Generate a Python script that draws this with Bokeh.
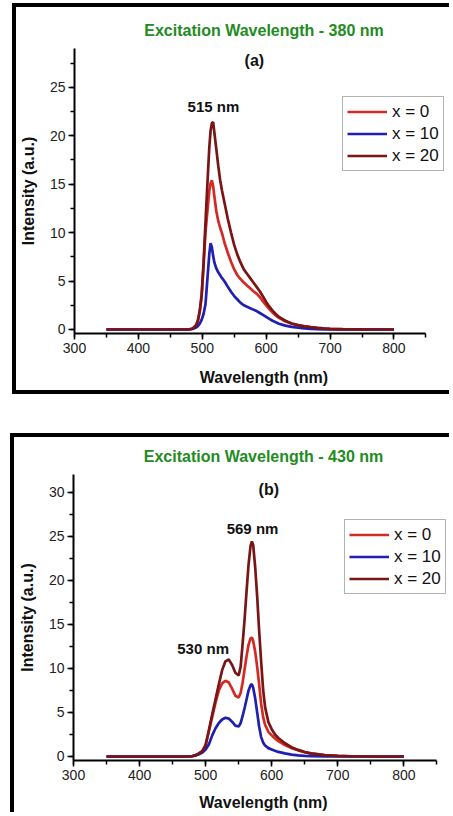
from bokeh.plotting import figure
from bokeh.models import Label, Range1d, SingleIntervalTicker, Spacer
from bokeh.layouts import column, row
from bokeh.embed import file_html
from bokeh.resources import INLINE

# ---------------- data: panel (a), excitation 380 nm ----------------
wl_a = [350, 470, 480, 485, 490, 493, 496, 499, 502, 505, 508, 511, 513, 515, 517,
        519, 522, 525, 528, 531, 535, 540, 545, 550, 555, 560, 565, 570, 575, 580,
        585, 590, 595, 600, 605, 610, 615, 620, 630, 640, 650, 660, 670, 680, 690,
        700, 720, 750, 800]
a_x0 = [0, 0, 0.02, 0.1, 0.4, 0.85, 1.8, 3.4, 6.5, 10.0, 12.2, 14.3, 15.1, 15.4, 14.8,
        13.7, 12.2, 11.2, 10.5, 9.9, 8.9, 7.9, 7.0, 6.2, 5.6, 5.2, 4.85, 4.55, 4.25, 3.95,
        3.7, 3.35, 2.9, 2.5, 2.1, 1.75, 1.45, 1.2, 0.85, 0.6, 0.43, 0.32, 0.23, 0.16, 0.1,
        0.06, 0.02, 0.01, 0]
a_x10 = [0, 0, 0.01, 0.05, 0.2, 0.35, 0.6, 1.0, 1.6, 2.6, 5.2, 7.8, 8.9, 8.5, 7.6,
         6.9, 6.3, 5.9, 5.6, 5.3, 4.95, 4.4, 3.9, 3.45, 3.1, 2.75, 2.5, 2.35, 2.2, 2.05,
         1.9, 1.7, 1.5, 1.3, 1.1, 0.9, 0.75, 0.6, 0.4, 0.27, 0.18, 0.11, 0.06, 0.03, 0.01,
         0, 0, 0, 0]
a_x20 = [0, 0, 0.02, 0.1, 0.4, 0.9, 1.9, 3.6, 6.9, 11.0, 15.0, 18.8, 20.5, 21.3, 21.4,
         20.3, 18.6, 16.9, 15.4, 14.3, 13.0, 11.4, 10.0, 8.7, 7.7, 6.9, 6.2, 5.75, 5.3, 4.85,
         4.4, 3.95, 3.4, 2.85, 2.35, 1.95, 1.6, 1.3, 0.9, 0.62, 0.45, 0.33, 0.24, 0.17, 0.11,
         0.07, 0.03, 0.01, 0]

# ---------------- data: panel (b), excitation 430 nm ----------------
wl_b = [350, 470, 480, 485, 490, 495, 500, 505, 510, 515, 520, 525, 530, 535, 540,
        545, 550, 553, 556, 559, 562, 565, 568, 570, 572, 575, 578, 581, 584, 587,
        590, 595, 600, 605, 610, 620, 630, 640, 650, 660, 680, 700, 720, 750, 800]
b_x0 = [0, 0, 0.05, 0.15, 0.35, 0.6, 1.3, 2.9, 4.5, 6.1, 7.5, 8.3, 8.6, 8.4, 7.7,
        6.9, 6.7, 7.2, 8.4, 9.9, 11.4, 12.7, 13.4, 13.5, 13.1, 11.9, 10.2, 8.2, 6.0, 4.5,
        3.6, 2.8, 2.4, 2.05, 1.75, 1.3, 0.95, 0.7, 0.48, 0.33, 0.15, 0.07, 0.03, 0.01, 0]
b_x10 = [0, 0, 0.03, 0.1, 0.25, 0.45, 0.8, 1.4, 2.4, 3.2, 3.8, 4.2, 4.4, 4.3, 3.95,
         3.5, 3.4, 3.8, 4.6, 5.5, 6.5, 7.5, 8.1, 8.2, 7.8, 6.6, 5.0, 3.4, 2.2, 1.6,
         1.25, 0.95, 0.8, 0.65, 0.52, 0.35, 0.22, 0.13, 0.08, 0.05, 0.02, 0.01, 0, 0, 0]
b_x20 = [0, 0, 0.05, 0.15, 0.35, 0.6, 1.3, 3.0, 4.8, 6.5, 8.2, 9.8, 10.8, 11.0, 10.4,
         9.5, 9.2, 10.2, 12.8, 15.6, 18.8, 21.8, 23.9, 24.4, 24.0, 21.5, 18.2, 14.3, 10.8, 7.6,
         5.6, 3.9, 3.1, 2.5, 2.1, 1.5, 1.05, 0.75, 0.5, 0.35, 0.15, 0.07, 0.03, 0.01, 0]

series_labels = ["x = 0", "x = 10", "x = 20"]
series_colors = ["#d42a24", "#1f1fb0", "#7a1515"]

FONT = "Liberation Sans"


def make_panel(width, height, borders, xr, yr, wl, ys, title, title_offset,
               tag, tag_xy, notes, legend_loc, xlabel_standoff, styles):
    p = figure(width=width, height=height, output_backend="svg", toolbar_location=None,
               x_range=Range1d(*xr), y_range=Range1d(*yr),
               min_border_left=borders[0], min_border_right=borders[1],
               min_border_top=borders[2], min_border_bottom=borders[3],
               styles=styles)
    p.outline_line_color = None
    p.xgrid.visible = False
    p.ygrid.visible = False
    p.background_fill_color = "white"
    p.border_fill_color = "white"

    p.title.text = title
    p.title.align = "center"
    p.title.vertical_align = "top"
    p.title.offset = title_offset
    p.title.standoff = 16
    p.title.text_font = FONT
    p.title.text_font_size = "16px"
    p.title.text_font_style = "bold"
    p.title.text_color = "#228b22"

    for vals, lab, col in zip(ys, series_labels, series_colors):
        p.line(wl, vals, line_color=col, line_width=2.7, legend_label=lab)

    p.xaxis.ticker = SingleIntervalTicker(interval=100, num_minor_ticks=2)
    p.yaxis.ticker = SingleIntervalTicker(interval=5, num_minor_ticks=2)
    p.xaxis.bounds = (300, 850)
    for ax in (p.xaxis[0], p.yaxis[0]):
        ax.axis_line_width = 2
        ax.axis_line_color = "black"
        ax.major_tick_in = 0
        ax.major_tick_out = 6
        ax.minor_tick_in = 0
        ax.minor_tick_out = 4
        ax.major_tick_line_width = 1.5
        ax.minor_tick_line_width = 1.5
        ax.major_label_text_font = FONT
        ax.major_label_text_font_size = "14px"
        ax.major_label_text_color = "#222222"
        ax.major_label_standoff = 3
        ax.axis_label_text_font = FONT
        ax.axis_label_text_font_size = "16px"
        ax.axis_label_text_font_style = "bold"
        ax.axis_label_text_color = "#111111"
    p.xaxis.axis_label = "Wavelength (nm)"
    p.yaxis.axis_label = "Intensity (a.u.)"
    p.xaxis.axis_label_standoff = xlabel_standoff
    p.yaxis.axis_label_standoff = 10

    p.add_layout(Label(x=tag_xy[0], y=tag_xy[1], text=tag, text_align="center",
                       text_baseline="middle", text_font=FONT, text_font_size="16px",
                       text_font_style="bold", text_color="#111111"))
    for (nx, ny, nt) in notes:
        p.add_layout(Label(x=nx, y=ny, text=nt, text_align="center",
                           text_baseline="middle", text_font=FONT, text_font_size="15px",
                           text_font_style="bold", text_color="#111111"))

    lg = p.legend[0]
    lg.location = legend_loc
    lg.border_line_color = "#666666"
    lg.border_line_width = 1
    lg.background_fill_color = "white"
    lg.background_fill_alpha = 1
    lg.label_text_font = FONT
    lg.label_text_font_size = "17px"
    lg.label_text_color = "#111111"
    lg.glyph_width = 40
    lg.glyph_height = 21
    lg.label_height = 21
    lg.label_standoff = 5
    lg.padding = 4
    lg.spacing = 1
    lg.margin = 0
    return p


p1 = make_panel(437, 391, (57, 0, 41, 65), (300, 893.2), (-0.413, 29.0),
                wl_a, [a_x0, a_x10, a_x20],
                "Excitation Wavelength - 380 nm", 0, "(a)", (581.5, 27.8),
                [(517.5, 23.0, "515 nm")], (268, 162), 13,
                {"border-left": "4px solid black", "border-top": "4px solid black",
                 "border-bottom": "4px solid black"})

p2 = make_panel(439, 379, (59, 0, 37, 56), (300, 875.2), (-0.454, 32.0),
                wl_b, [b_x0, b_x10, b_x20],
                "Excitation Wavelength - 430 nm", 15, "(b)", (595.6, 30.3),
                [(571.0, 25.9, "569 nm"), (496.2, 12.2, "530 nm")], (271, 166), 11,
                {"border-left": "4px solid black", "border-top": "4px solid black"})

layout = column(Spacer(width=10, height=3),
                row(Spacer(width=12, height=10), p1),
                Spacer(width=10, height=39),
                row(Spacer(width=10, height=10), p2))

open("out.html", "w").write(file_html(layout, INLINE))
